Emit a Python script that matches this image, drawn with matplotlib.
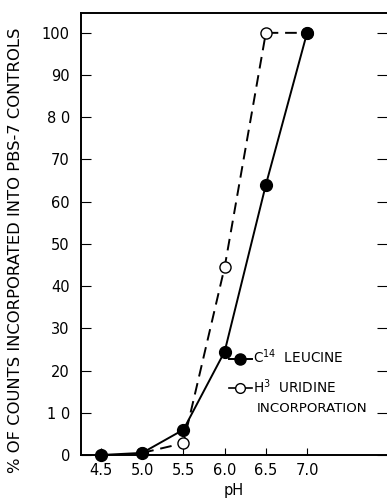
import matplotlib
matplotlib.use("Agg")
import matplotlib.pyplot as plt
from matplotlib.lines import Line2D

ph = [4.5, 5.0, 5.5, 6.0, 6.5, 7.0]
leucine = [0, 0.5, 6, 24.5, 64, 100]
ph_uridine = [5.0, 5.5, 6.0, 6.5, 7.0]
uridine = [0.5, 2.8, 44.5, 100, 100]
xticks = [4.5, 5.0, 5.5, 6.0, 6.5, 7.0]
xticklabels = ["4.5", "5.0", "5.5", "6.0", "6.5", "7.0"]
yticks = [0, 10, 20, 30, 40, 50, 60, 70, 80, 90, 100]
yticklabels = ["0", "1 0", "20", "30", "40", "50", "60", "70", "8 0", "90", "100"]

plt.rcParams['font.family'] = ['DejaVu Sans']
fig = plt.figure(figsize=(3.87, 4.98), dpi=100)
ax = fig.add_axes([81/387, 43/498, 1 - 81/387, (455-13)/498])

lu, = ax.plot(ph_uridine, uridine, color='black', lw=1.4, dashes=(6, 3.5),
              marker='o', ms=8, mfc='white', mec='black', mew=1.0, zorder=2)
ll, = ax.plot(ph, leucine, color='black', lw=1.4, marker='o', ms=8.5,
              mfc='black', mec='black', zorder=3, clip_on=False)

ax.set_xlim(4.257, 7.97)
ax.set_ylim(0, 104.7)
ax.set_xticks(xticks)
ax.set_xticklabels(xticklabels, fontsize=10.5)
ax.set_yticks(yticks)
ax.set_yticklabels(yticklabels, fontsize=10.5)
ax.tick_params(axis='x', direction='in', length=5, width=0.8, pad=6)
ax.tick_params(axis='y', direction='in', length=7, width=0.8, pad=8, right=True)
ax.spines['right'].set_visible(False)
for s in ['left', 'bottom', 'top']:
    ax.spines[s].set_linewidth(1.4)

ax.set_ylabel("% OF COUNTS INCORPORATED INTO PBS-7 CONTROLS", fontsize=11.8)
ax.yaxis.set_label_coords(-0.19, 0.464)
ax.set_xlabel("pH", fontsize=10.5, labelpad=3)

h1 = Line2D([], [], color='black', lw=1.4, marker='o', ms=8, mfc='black', mec='black')
h2 = Line2D([], [], color='black', lw=1.2, marker='o', ms=7, mfc='white', mec='black')
leg = ax.legend([h1, h2], ["C$^{14}$  LEUCINE", "H$^{3}$  URIDINE"], loc='upper left',
                bbox_to_anchor=(0.46, 0.258), frameon=False, fontsize=9.8, handlelength=1.7,
                handletextpad=0.1, labelspacing=0.78, borderpad=0, numpoints=1)
ax.text(0.575, 0.106, "INCORPORATION", transform=ax.transAxes, fontsize=9.6, va='center', ha='left')

fig.savefig("out.png", dpi=100)
